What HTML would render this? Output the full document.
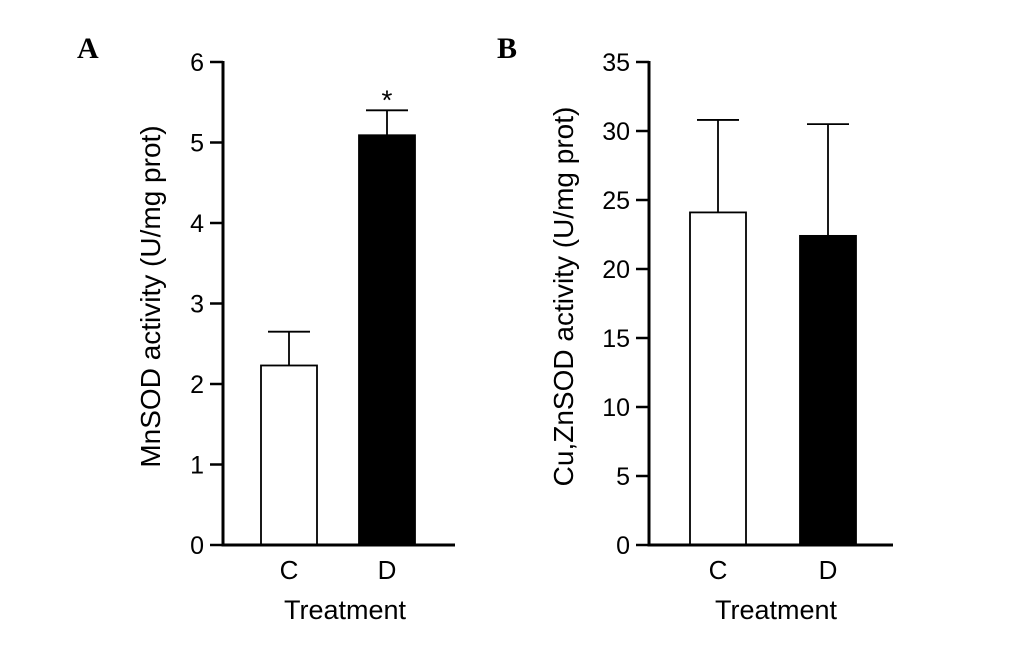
<!DOCTYPE html>
<html><head><meta charset="utf-8"><style>
body{margin:0;background:#fff;}
svg text{font-family:"Liberation Sans",sans-serif;fill:#000;}
</style></head><body>
<svg width="1033" height="643" viewBox="0 0 1033 643">
<g id="root"></g>
</svg>
<script>
const categories = ["C","D"];
const valuesA = [2.23, 5.09];
const errorsA = [0.42, 0.31];
const ticksA = [0,1,2,3,4,5,6];
const valuesB = [24.1, 22.4];
const errorsB = [6.7, 8.1];
const ticksB = [0,5,10,15,20,25,30,35];
const fills = ["#fff","#000"];

const NS="http://www.w3.org/2000/svg";
const root=document.getElementById('root');
function mk(tag,attrs,parent){const e=document.createElementNS(NS,tag);for(const k in attrs)e.setAttribute(k,attrs[k]);(parent||root).appendChild(e);return e;}

function panel(cfg){
  const g=mk('g',{});
  
  
  const y=v=>cfg.y0-(v-cfg.min)/(cfg.max-cfg.min)*(cfg.y0-cfg.y1);
  const L=mk('text',{x:cfg.letterX,y:58,'font-size':30,'font-weight':'bold',style:'font-family:"Liberation Serif",serif'},g);
  L.textContent=cfg.letter;
  
  
  cfg.ticks.forEach(t=>{
    const ln=mk('line',{x1:cfg.ax-13,x2:cfg.ax,y1:y(t),y2:y(t),stroke:'#000','stroke-width':2.5},g);
    
    
    const tx=mk('text',{x:cfg.ax-19,y:y(t)+9,'font-size':25,'text-anchor':'end'},g);
    tx.textContent=t;
    
    
  });
  cfg.values.forEach((v,i)=>{
    const bx=cfg.barX[i], w=cfg.barW;
    const e=cfg.errors[i];
    const cx=bx+w/2;
    const eb=mk('line',{x1:cx,x2:cx,y1:y(v),y2:y(v+e),stroke:'#000','stroke-width':1.8},g);
    
    
    const cap=mk('line',{x1:cx-21,x2:cx+21,y1:y(v+e),y2:y(v+e),stroke:'#000','stroke-width':1.8},g);
    
    
    const r=mk('rect',{x:bx,y:y(v),width:w,height:cfg.y0-y(v),fill:fills[i],stroke:'#000','stroke-width':1.8},g);
    
    
    const cl=mk('text',{x:cx,y:cfg.y0+34,'font-size':26,'text-anchor':'middle'},g);
    cl.textContent=categories[i];
    
    
    if(cfg.star && i===1){
      const s=mk('text',{x:cx,y:y(v+e)-1,'font-size':28,'text-anchor':'middle'},g);
      s.textContent='*';
      
      
    }
  });
  const ya=mk('line',{x1:cfg.ax,x2:cfg.ax,y1:cfg.y1-1,y2:cfg.y0+1.5,stroke:'#000','stroke-width':3},g);
  
  
  const xa=mk('line',{x1:cfg.ax-1.5,x2:cfg.axEnd,y1:cfg.y0,y2:cfg.y0,stroke:'#000','stroke-width':3},g);
  
  
  const xt=mk('text',{x:cfg.xTitleX,y:619,'font-size':27,'text-anchor':'middle'},g);
  xt.textContent='Treatment';
  
  
  const yt=mk('text',{x:0,y:0,'font-size':28,'text-anchor':'middle',transform:`translate(${cfg.yTitleX},${(cfg.y0+cfg.y1)/2-7}) rotate(-90)`},g);
  yt.textContent=cfg.yTitle;
  
  
}
panel({name:'panel-a',letter:'A',letterX:77,ax:223,axEnd:455,y0:545,y1:62,min:0,max:6,ticks:ticksA,values:valuesA,errors:errorsA,barX:[261,359],barW:56,star:true,xTitleX:345,yTitleX:160,yTitle:'MnSOD activity (U/mg prot)'});
panel({name:'panel-b',letter:'B',letterX:497,ax:649,axEnd:893,y0:545,y1:62,min:0,max:35,ticks:ticksB,values:valuesB,errors:errorsB,barX:[690,800],barW:56,star:false,xTitleX:776,yTitleX:573,yTitle:'Cu,ZnSOD activity (U/mg prot)'});
</script>
</body></html>
